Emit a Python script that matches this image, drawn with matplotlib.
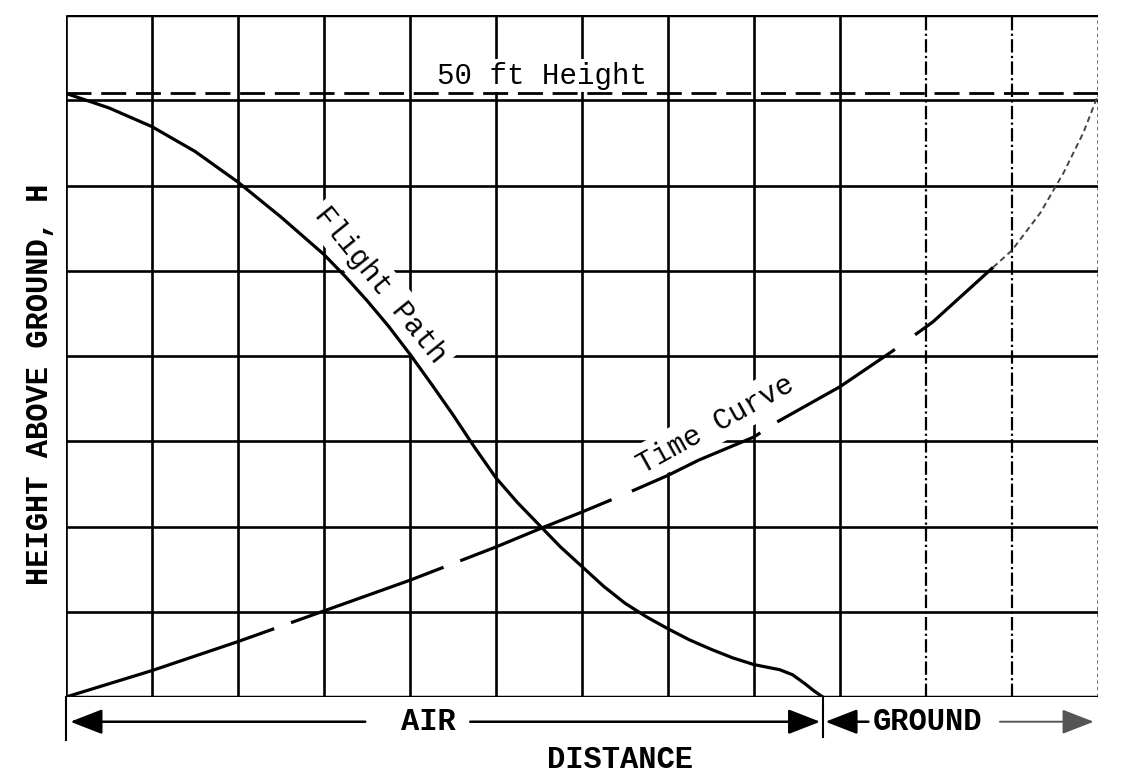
import matplotlib.pyplot as plt
from matplotlib.patches import FancyArrowPatch
import numpy as np

# grid (in grid-division units)
x_grid = list(range(0, 13))
y_grid = list(range(0, 9))

# flight path
fp_x = [0, 0.5, 1, 1.5, 2, 2.5, 3, 3.25, 3.5, 3.75, 4, 4.25, 4.5, 4.75, 5, 5.25, 5.5, 5.75,
        6, 6.25, 6.5, 6.75, 7, 7.25, 7.5, 7.75, 8, 8.15, 8.3, 8.45, 8.6, 8.7, 8.8]
fp_y = [7.08, 6.91, 6.69, 6.40, 6.04, 5.63, 5.19, 4.93, 4.65, 4.35, 4.02, 3.67, 3.31, 2.93,
        2.57, 2.28, 2.02, 1.76, 1.53, 1.30, 1.10, 0.94, 0.80, 0.67, 0.56, 0.46, 0.38, 0.35,
        0.32, 0.26, 0.15, 0.07, 0.0]

# time curve (dashed part, then faint tail)
tc_x = [0, 1, 2, 3, 4, 5, 5.55, 6, 6.5, 7, 7.36, 8, 8.24, 9, 9.6, 10.08, 10.78]
tc_y = [0, 0.31, 0.65, 1.01, 1.37, 1.76, 1.99, 2.17, 2.38, 2.60, 2.78, 3.05, 3.21, 3.64, 4.05, 4.40, 5.04]
tail_x = [10.78, 11.0, 11.33, 11.6, 11.83, 12.0]
tail_y = [5.04, 5.24, 5.68, 6.15, 6.62, 7.06]

h50 = 7.08          # 50 ft height line
ground_start = 8.8  # touchdown point

mono = 'Liberation Mono'

fig = plt.figure(figsize=(11.33, 7.78), dpi=100)
ax = fig.add_axes([66 / 1133, 1 - 697 / 778, (1098 - 66) / 1133, (697 - 15) / 778])
ax.set_xlim(0, 12)
ax.set_ylim(0, 8)
ax.set_axis_off()

# grid
for gx in x_grid:
    if gx <= 9:
        ax.vlines(gx, 0, 8, color='black', lw=1.9, zorder=1)
    elif gx < 12:
        ax.vlines(gx, 0, 8, color='black', lw=1.6, linestyles=(0, (6, 1.5, 1, 1.5)), zorder=1)
    else:
        ax.vlines(gx, 0, 8, color='#555555', lw=1.2, linestyles=(0, (2, 2)), zorder=1)
for gy in y_grid:
    ax.hlines(gy, 0, 12, color='black', lw=2.5 if gy in (0, 8) else 1.9, zorder=1)

# 50 ft line
ax.plot([0, 12], [h50, h50], color='black', lw=2, linestyle=(0, (9, 3.5)), zorder=2)

# curves
ax.plot(fp_x, fp_y, color='black', lw=2.3, zorder=3)
ax.plot(tc_x, tc_y, color='black', lw=2.3, zorder=3,
        linestyle=(0, (68.6, 5.6, 50.8, 5.6, 51.1, 6.9, 44.2, 6.3, 43.3, 7.8, 125, 1)))
ax.plot(tail_x, tail_y, color='#444444', lw=1.4, linestyle=(0, (3, 2)), zorder=3)

# labels on the chart (white box opens the grid behind them)
box = dict(facecolor='white', edgecolor='none', pad=4)
ax.text(5.53, 7.29, '50 ft Height', fontsize=21, family=mono, ha='center', va='center',
        bbox=dict(facecolor='white', edgecolor='none', pad=2), zorder=2.5)
ax.text(3.66, 4.83, 'Flight Path', fontsize=21, family=mono, ha='center', va='center',
        rotation=-51, rotation_mode='anchor', bbox=box, zorder=2.5)
ax.text(7.55, 3.20, 'Time Curve', fontsize=21, family=mono, ha='center', va='center',
        rotation=29, rotation_mode='anchor', bbox=box, zorder=2.5)

# axis titles
ax.text(-0.30, 3.67, 'HEIGHT ABOVE GROUND, H', fontsize=22, family=mono, weight='bold',
        rotation=90, ha='center', va='center', clip_on=False)
ax.text(6.44, -0.74, 'DISTANCE', fontsize=22, family=mono, weight='bold',
        ha='center', va='center', clip_on=False)

# distance arrows below
ya = -0.29
ax.plot([0, 0], [0, -0.5], color='black', lw=1.5, clip_on=False)
ax.plot([ground_start, ground_start], [0, -0.47], color='black', lw=1.5, clip_on=False)


def arrow(x0, x1, color='black', lw=1.8):
    a = FancyArrowPatch((x0, ya), (x1, ya), arrowstyle='-|>,head_length=0.9,head_width=0.35',
                        mutation_scale=22, color=color, lw=lw, clip_on=False, shrinkA=0, shrinkB=0)
    ax.add_patch(a)


arrow(3.48, 0.05)
arrow(4.70, ground_start - 0.03)
arrow(9.33, ground_start + 0.03)
arrow(10.86, 11.95, color='#555555', lw=1.4)
ax.text(4.21, ya, 'AIR', fontsize=22, family=mono, weight='bold', ha='center', va='center', clip_on=False)
ax.text(10.02, ya, 'GROUND', fontsize=22, family=mono, weight='bold', ha='center', va='center', clip_on=False)

fig.savefig('out.png', dpi=100)
